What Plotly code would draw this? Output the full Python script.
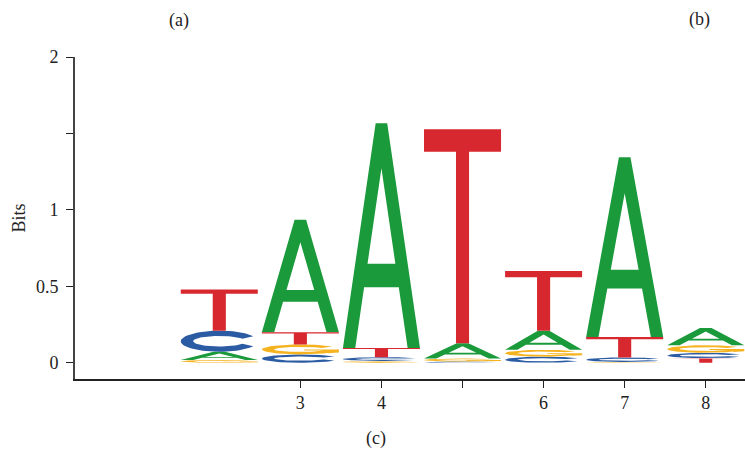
import numpy as np
import plotly.graph_objects as go

# ---- data (bits per nucleotide at each motif position) ----
positions = [2, 3, 4, 5, 6, 7, 8]
bits_A = [0.054, 0.735, 1.470, 0.100, 0.125, 1.176, 0.113]
bits_C = [0.138, 0.055, 0.025, 0.008, 0.040, 0.030, 0.035]
bits_G = [0.018, 0.065, 0.012, 0.020, 0.045, 0.005, 0.050]
bits_T = [0.270, 0.080, 0.060, 1.400, 0.390, 0.133, 0.030]

x_tick_vals = [3, 4, 5, 6, 7, 8]
x_tick_text = ["3", "4", "", "6", "7", "8"]
y_tick_vals = [0, 0.5, 1, 1.5, 2]
y_tick_text = ["0", "0.5", "1", "", "2"]

colors = {"A": "#1b9a3b", "C": "#2b5ca3", "G": "#f5b31f", "T": "#d7282f"}
FONT = "Liberation Serif"

# ---- glyph outlines in a unit box ----
def glyph_T():
    b = 0.895
    return [[(0.415, 0), (0.585, 0), (0.585, b), (1, b), (1, 1), (0, 1), (0, b), (0.415, b)]]

def glyph_A():
    w = 0.16
    s = 0.425
    yi = (0.5 - w) / s
    outer = [(0, 0), (w, 0), (0.5, yi), (1 - w, 0), (1, 0), (1 - s, 1), (s, 1)]
    y0, y1 = 0.27, 0.375
    bar = [(s * y0, y0), (1 - s * y0, y0), (1 - s * y1, y1), (s * y1, y1)]
    return [outer, bar]

def _c_arc(a0=28, a1=332, rxi=0.34, ryi=0.25):
    th = np.radians(np.linspace(a0, a1, 60))
    outer = [(0.5 + 0.5 * np.cos(t), 0.5 + 0.5 * np.sin(t)) for t in th]
    inner = [(0.5 + rxi * np.cos(t), 0.5 + ryi * np.sin(t)) for t in th[::-1]]
    return outer + inner

def glyph_C():
    return [_c_arc()]

def glyph_G():
    arc = _c_arc(35, 355)
    bar = [(0.55, 0.38), (1.0, 0.38), (1.0, 0.5), (0.55, 0.5)]
    vert = [(0.86, 0.12), (1.0, 0.2), (1.0, 0.5), (0.86, 0.5)]
    return [arc, bar, vert]

glyphs = {"A": glyph_A, "C": glyph_C, "G": glyph_G, "T": glyph_T}
heights = {"A": bits_A, "C": bits_C, "G": bits_G, "T": bits_T}

LETTER_W = 0.95
xs = {k: [] for k in glyphs}
ys = {k: [] for k in glyphs}
for i, pos in enumerate(positions):
    col = sorted(glyphs.keys(), key=lambda k: heights[k][i])
    base = 0.0
    for k in col:
        h = heights[k][i]
        x0 = pos - LETTER_W / 2
        for poly in glyphs[k]():
            for (u, v) in poly:
                xs[k].append(x0 + u * LETTER_W)
                ys[k].append(base + v * h)
            xs[k].append(None)
            ys[k].append(None)
        base += h

fig = go.Figure()
for k in ["A", "C", "G", "T"]:
    fig.add_trace(go.Scatter(
        x=xs[k], y=ys[k], mode="lines", fill="toself",
        fillcolor=colors[k], line=dict(width=0, color=colors[k]),
        hoverinfo="skip", showlegend=False, name=k,
    ))

fig.update_layout(
    width=745, height=456,
    margin=dict(l=75, r=0, t=57, b=77, autoexpand=False),
    paper_bgcolor="white", plot_bgcolor="white",
    font=dict(family=FONT, size=18, color="#222"),
    showlegend=False,
)
fig.update_xaxes(
    range=[0.2204, 8.484], showgrid=False, zeroline=False,
    showline=True, linecolor="#222", linewidth=1.5,
    ticks="outside", ticklen=7, tickwidth=1.3, tickcolor="#222",
    tickvals=x_tick_vals, ticktext=x_tick_text,
    tickfont=dict(family=FONT, size=18, color="#222"),
)
fig.update_yaxes(
    range=[-0.106, 2.0], showgrid=False, zeroline=False,
    showline=True, linecolor="#444", linewidth=1.8,
    ticks="outside", ticklen=7, tickwidth=1.3, tickcolor="#222",
    tickvals=y_tick_vals, ticktext=y_tick_text, ticklabelstandoff=4,
    tickfont=dict(family=FONT, size=18, color="#222"),
    title=dict(text="Bits", font=dict(family=FONT, size=18, color="#222"), standoff=6),
)

for txt, px, py in [("(a)", 179, 20), ("(b)", 699, 19), ("(c)", 376, 438)]:
    fig.add_annotation(
        text=txt, xref="paper", yref="paper",
        x=(px - 75) / 670, y=(379 - py) / 322,
        xanchor="center", yanchor="middle", showarrow=False,
        font=dict(family=FONT, size=18, color="#222"),
    )

fig.write_html(
    "out.html",
    config={"displayModeBar": False},
    post_script="document.body.style.margin='0';",
)
